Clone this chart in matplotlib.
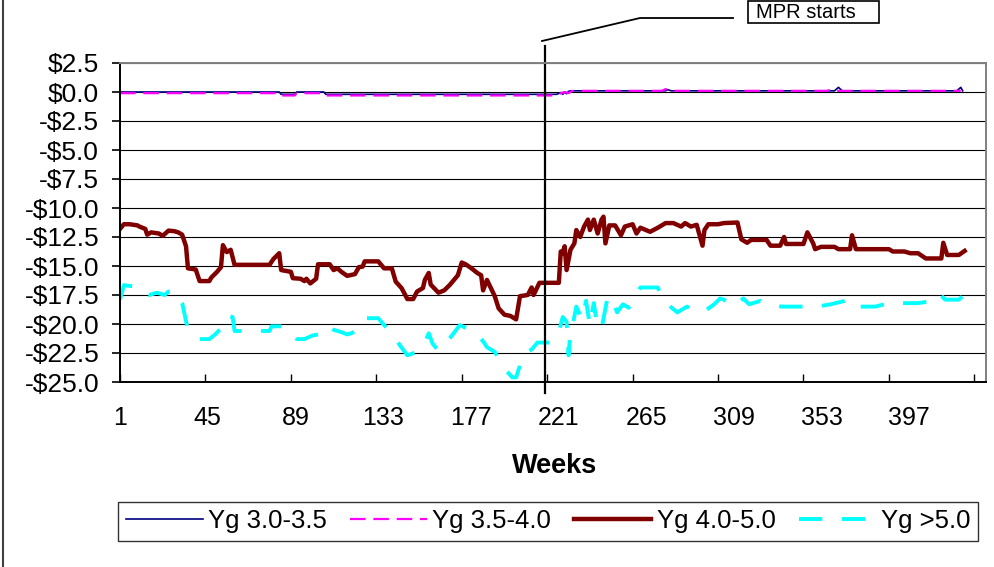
import numpy as np
import matplotlib
matplotlib.use('Agg')
import matplotlib.pyplot as plt
from matplotlib.lines import Line2D
from matplotlib.patches import Rectangle

plt.rcParams['font.family'] = ['Liberation Sans', 'DejaVu Sans']

# series: (week, value) points
navy_weeks = [1, 83, 84, 91, 92, 106, 107, 219, 226, 228, 229, 230, 231, 232, 233,
              282, 283, 285, 286, 369, 371, 373, 432, 434, 435]
navy_vals = [0.0, 0.0, -0.2, -0.2, 0.0, 0.0, -0.2, -0.2, -0.2, -0.05, -0.2, 0.0, -0.15, 0.05, 0.1,
             0.1, 0.2, 0.1, 0.1, 0.1, 0.4, 0.1, 0.1, 0.4, 0.1]

mag_weeks = [1, 83, 84, 91, 92, 106, 107, 219, 226, 228, 230, 232, 234, 280, 282, 284, 286,
             365, 368, 370, 430, 434]
mag_vals = [-0.1, -0.1, -0.3, -0.3, -0.1, -0.1, -0.3, -0.3, -0.3, -0.1, 0.0, -0.1, 0.1, 0.1, 0.25, 0.1, 0.1,
            0.1, 0.25, 0.1, 0.1, 0.1]

brown_weeks = [1, 3, 6, 10, 11, 14, 15, 17, 21, 23, 25, 26, 29, 31, 33, 35, 36, 40, 42, 47,
               48, 51, 53, 54, 56, 58, 60, 78, 80, 83, 84, 89, 90, 94, 96, 97, 99, 102, 103, 109,
               111, 113, 115, 118, 122, 124, 126, 127, 134, 137, 141, 143, 146, 149, 152, 154, 157, 158, 160, 161,
               165, 168, 171, 175, 177, 179, 182, 185, 187, 188, 190, 192, 194, 196, 199, 202, 205, 207, 211, 213,
               214, 217, 227, 228, 229, 230, 231, 233, 235, 236, 238, 240, 242, 243, 245, 247, 249, 250, 251, 253,
               256, 259, 261, 265, 267, 269, 274, 278, 282, 286, 290, 292, 295, 298, 299, 301, 302, 304, 309, 312,
               319, 321, 324, 326, 334, 336, 341, 343, 344, 353, 355, 358, 359, 362, 369, 371, 377, 378, 380, 397,
               399, 405, 408, 412, 416, 424, 425, 427, 433, 436]
brown_vals = [-11.8, -11.4, -11.4, -11.5, -11.6, -11.8, -12.3, -12.1, -12.2, -12.4, -12.1, -11.95, -12.0, -12.1, -12.3, -13.3, -15.2, -15.3, -16.3, -16.3,
              -16.0, -15.5, -15.1, -13.2, -13.8, -13.6, -14.9, -14.9, -14.4, -13.9, -15.35, -15.5, -16.05, -16.1, -16.3, -16.1, -16.5, -16.1, -14.85, -14.85,
              -15.35, -15.2, -15.5, -15.85, -15.7, -15.1, -15.05, -14.6, -14.6, -15.2, -15.2, -16.35, -16.9, -17.85, -17.85, -17.2, -16.9, -16.2, -15.6, -16.6,
              -17.3, -17.1, -16.6, -15.8, -14.7, -14.85, -15.2, -15.6, -15.8, -17.1, -16.2, -16.9, -17.6, -18.65, -19.2, -19.3, -19.6, -17.6, -17.5, -16.85,
              -17.5, -16.45, -16.45, -13.75, -13.9, -13.3, -15.35, -13.6, -13.05, -11.9, -12.5, -11.6, -11.0, -11.9, -11.0, -12.2, -11.0, -10.75, -13.05, -11.5,
              -11.5, -12.35, -11.6, -11.4, -12.2, -11.7, -12.05, -11.7, -11.3, -11.3, -11.6, -11.3, -11.6, -11.45, -12.05, -13.25, -11.9, -11.4, -11.4, -11.3,
              -11.25, -12.7, -13.0, -12.75, -12.75, -13.25, -13.25, -12.5, -13.1, -13.1, -12.1, -13.05, -13.55, -13.35, -13.35, -13.55, -13.55, -12.35, -13.55, -13.55,
              -13.75, -13.75, -13.9, -13.9, -14.35, -14.35, -13.0, -14.05, -14.05, -13.7]

cyan_weeks = [1, 3, 5, 8, 10, 16, 20, 24, 26, 29, 33, 36, 42, 47, 50, 54, 56, 59, 60, 66,
              74, 78, 79, 85, 88, 92, 96, 100, 103, 106, 108, 111, 115, 118, 120, 124, 126, 128, 134, 136,
              141, 145, 149, 154, 157, 160, 162, 165, 167, 171, 176, 180, 184, 188, 190, 194, 199, 203, 205, 209,
              213, 216, 223, 227, 229, 231, 232, 233, 234, 236, 239, 241, 243, 245, 247, 249, 252, 254, 257, 260,
              263, 266, 269, 278, 280, 283, 288, 293, 297, 302, 307, 310, 312, 317, 322, 325, 331, 336, 342, 350,
              360, 367, 372, 377, 380, 390, 397, 412, 420, 423, 426, 433, 435]
cyan_vals = [-17.9, -16.65, -16.7, -16.75, -17.2, -17.5, -17.3, -17.5, -17.2, -17.1, -18.2, -20.5, -21.3, -21.3, -20.9, -20.2, -19.3, -19.4, -20.6, -20.6,
             -20.6, -20.6, -20.2, -20.2, -20.6, -21.3, -21.3, -21.0, -20.9, -20.4, -20.1, -20.5, -20.7, -20.9, -20.8, -20.5, -20.1, -19.5, -19.5, -19.9,
             -20.8, -21.8, -22.7, -22.4, -22.0, -20.8, -21.7, -22.3, -22.0, -21.2, -20.1, -20.4, -20.7, -21.5, -22.0, -22.4, -23.85, -24.6, -24.6, -22.5,
             -22.2, -21.6, -21.6, -20.7, -19.4, -19.8, -22.7, -20.6, -20.2, -18.5, -19.6, -18.0, -20.1, -18.2, -20.3, -20.4, -17.8, -17.6, -19.0, -18.3,
             -18.6, -17.8, -16.85, -16.85, -17.8, -18.3, -19.0, -18.5, -18.9, -18.9, -18.3, -17.8, -17.9, -18.5, -17.8, -18.3, -18.0, -18.4, -18.5, -18.5,
             -18.5, -18.3, -18.1, -17.9, -18.5, -18.5, -18.2, -18.2, -18.0, -17.4, -17.9, -17.9, -17.6]

tick_weeks = [1, 45, 89, 133, 177, 221, 265, 309, 353, 397, 441]
tick_labels = ['1', '45', '89', '133', '177', '221', '265', '309', '353', '397', '']
y_ticks = [2.5, 0.0, -2.5, -5.0, -7.5, -10.0, -12.5, -15.0, -17.5, -20.0, -22.5, -25.0]
y_labels = ['$2.5', '$0.0', '-$2.5', '-$5.0', '-$7.5', '-$10.0', '-$12.5', '-$15.0',
            '-$17.5', '-$20.0', '-$22.5', '-$25.0']
mpr_week = 220

fig = plt.figure(figsize=(9.95, 5.67), dpi=100)
ax = fig.add_axes([120 / 995, 1 - 382 / 567, 866 / 995, 319 / 567])

ax.plot(navy_weeks, navy_vals, color='#000080', lw=1.2, label='Yg 3.0-3.5')
ax.plot(mag_weeks, mag_vals, color='#FF00FF', lw=1.6, linestyle=(0, (7, 3.5)), label='Yg 3.5-4.0')
ax.plot(brown_weeks, brown_vals, color='#800000', lw=3.2, label='Yg 4.0-5.0')
ax.plot(cyan_weeks, cyan_vals, color='#00FFFF', lw=2.8, linestyle=(0, (6, 5)), label='Yg >5.0')

ax.set_xlim(1, 447)
ax.set_ylim(-25, 2.5)
ax.set_yticks(y_ticks)
ax.set_yticklabels(y_labels, fontsize=19)
ax.set_xticks(tick_weeks)
ax.set_xticklabels([''] * len(tick_weeks))
ax.tick_params(axis='y', direction='out', length=6, width=1.2, pad=9)
ax.tick_params(axis='x', direction='in', length=6, width=1.0)
ax.grid(axis='y', color='black', lw=0.8)
ax.set_axisbelow(True)
for s in ['left', 'bottom']:
    ax.spines[s].set_color('black')
    ax.spines[s].set_linewidth(1.4)
for s in ['top', 'right']:
    ax.spines[s].set_color('#808080')
    ax.spines[s].set_linewidth(1.4)

# category labels drift slightly right of their ticks in the original
for w, lab in zip(tick_weeks, tick_labels):
    ax.annotate(lab, xy=(w, 0), xycoords=('data', 'axes fraction'),
                xytext=((w - 1) * 0.0514 * 0.72, -36 * 0.72), textcoords='offset points',
                ha='center', va='center', fontsize=18)

fig.text(555 / 995, 1 - 466 / 567, 'Weeks', ha='center', va='center', fontsize=19.5, fontweight='bold')

# MPR start marker line and callout
ax.plot([mpr_week, mpr_week], [-25.95, 3.95], color='black', lw=1.6, clip_on=False)
fig.add_artist(Line2D([542 / 995, 640 / 995, 733 / 995], [1 - 41 / 567, 1 - 18 / 567, 1 - 18 / 567],
                      transform=fig.transFigure, color='black', lw=1.3))
fig.add_artist(Rectangle((748 / 995, 1 - 23 / 567), 131 / 995, 22 / 567, transform=fig.transFigure,
                         fill=False, edgecolor='black', lw=1.2))
fig.text(756 / 995, 1 - 12 / 567, 'MPR starts', ha='left', va='center', fontsize=14.5)

# chart area border on the left edge
fig.add_artist(Line2D([3.5 / 995, 3.5 / 995], [0, 1], transform=fig.transFigure, color='#404040', lw=1.5))

handles, labels = ax.get_legend_handles_labels()
leg = fig.legend(handles, labels, loc='lower left', ncol=4, mode='expand',
                 bbox_to_anchor=(118 / 995, 1 - 541 / 567, 860 / 995, 46 / 567),
                 frameon=True, fancybox=False, edgecolor='black', fontsize=18.5,
                 handlelength=3.0, handletextpad=0.2, columnspacing=0.5, borderaxespad=0,
                 borderpad=0.3)
leg.get_frame().set_linewidth(1.0)

fig.savefig('out.png', dpi=100)
